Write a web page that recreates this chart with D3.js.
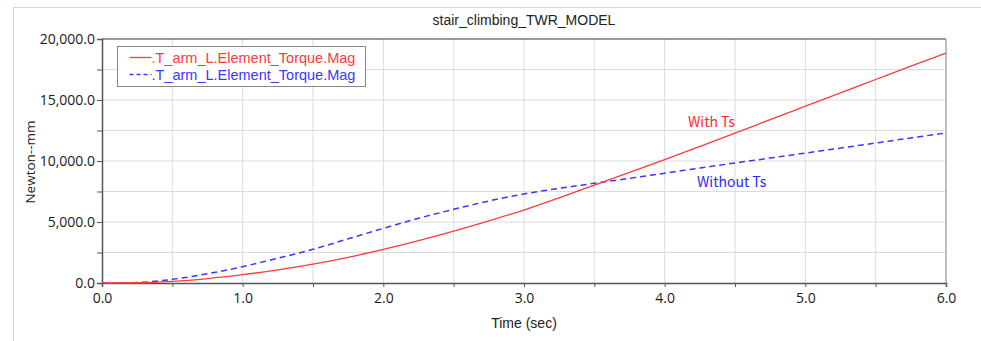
<!DOCTYPE html>
<html>
<head>
<meta charset="utf-8">
<script src="https://cdn.jsdelivr.net/npm/d3@7"></script>
<style>
  body { margin: 0; background: #fff; }
  svg { display: block; }
</style>
</head>
<body>
<div id="chart"></div>
<script>
// time in seconds
const times = [0, 0.25, 0.5, 0.75, 1.0, 1.25, 1.5, 1.75, 2.0, 2.25, 2.5, 2.75, 3.0,
               3.25, 3.5, 3.75, 4.0, 4.25, 4.5, 4.75, 5.0, 5.25, 5.5, 5.75, 6.0];
// torque, Newton-mm
const withTs = [0, 20, 130, 360, 680, 1070, 1540, 2100, 2760, 3480, 4260, 5100, 5980,
                6980, 8020, 9070, 10110, 11190, 12280, 13390, 14490, 15590, 16680, 17770, 18850];
const withoutTs = [0, 40, 300, 760, 1340, 2030, 2760, 3620, 4480, 5300, 6040, 6720, 7300,
                   7760, 8170, 8580, 9000, 9420, 9840, 10240, 10650, 11060, 11475, 11890, 12300];
const xTicks = [0, 1, 2, 3, 4, 5, 6];
const yTicks = [0, 5000, 10000, 15000, 20000];
const seriesNames = [".T_arm_L.Element_Torque.Mag", ".T_arm_L.Element_Torque.Mag"];

const W = 981, H = 341;
const m = { left: 102, right: 35, top: 39, bottom: 58 };

const svg = d3.select("#chart").append("svg")
    .attr("width", W)
    .attr("height", H);

// pink outer frame
svg.append("path")
    .attr("d", `M13.5,${H} L13.5,7.5 L${W},7.5`)
    .attr("fill", "none")
    .attr("stroke", "#ffc8c8")
    .attr("stroke-width", 1);

const x = d3.scaleLinear().domain([0, 6]).range([m.left, W - m.right]);
const y = d3.scaleLinear().domain([0, 20000]).range([H - m.bottom, m.top]);

// grid
const g = svg.append("g");
g.selectAll(".vg").data(d3.range(0.5, 6, 0.5)).join("line")
    .attr("x1", d => x(d)).attr("x2", d => x(d))
    .attr("y1", y(0)).attr("y2", y(20000))
    .attr("stroke", "#dcdcdc");
g.selectAll(".hg").data(d3.range(2500, 20000, 2500)).join("line")
    .attr("x1", x(0)).attr("x2", x(6))
    .attr("y1", d => y(d)).attr("y2", d => y(d))
    .attr("stroke", "#dcdcdc");

// frame top / right
svg.append("line").attr("x1", x(0)).attr("x2", x(6)).attr("y1", y(20000)).attr("y2", y(20000))
    .attr("stroke", "#777").attr("stroke-width", 1.5);
svg.append("line").attr("x1", x(6)).attr("x2", x(6)).attr("y1", y(20000)).attr("y2", y(0))
    .attr("stroke", "#aaa").attr("stroke-width", 1.5);

// axes
const fmt = d3.format(",.1f");
const xAxis = svg.append("g")
    .attr("transform", `translate(0,${y(0)})`)
    .call(d3.axisBottom(x).tickValues(d3.range(0, 6.01, 0.5)).tickSize(4)
        .tickFormat(d => xTicks.includes(d) ? d.toFixed(1) : ""));
const yAxis = svg.append("g")
    .attr("transform", `translate(${x(0)},0)`)
    .call(d3.axisLeft(y).tickValues(d3.range(0, 20001, 2500)).tickSize(5)
        .tickFormat(d => yTicks.includes(d) ? fmt(d) : ""));

[xAxis, yAxis].forEach(a => {
  a.select(".domain").attr("stroke", "#555").attr("stroke-width", 1.5);
  a.selectAll(".tick line").attr("stroke", "#555");
  a.selectAll("text")
      .attr("fill", "#1a1a1a")
      .style("font-family", "'Open Sans', sans-serif")
      .style("font-size", "14px");
});
xAxis.selectAll("text").attr("dy", "0.9em");
yAxis.selectAll("text").attr("x", -7);

// lines
const line = vals => d3.line()
    .x((d, i) => x(times[i]))
    .y(d => y(d))
    .curve(d3.curveMonotoneX)(vals);

svg.append("path").attr("d", line(withoutTs))
    .attr("fill", "none").attr("stroke", "#3838ff").attr("stroke-width", 1.5)
    .attr("stroke-dasharray", "6,4");
svg.append("path").attr("d", line(withTs))
    .attr("fill", "none").attr("stroke", "#ff3a3a").attr("stroke-width", 1.3);

// title and axis labels
svg.append("text").attr("x", 524).attr("y", 25).attr("text-anchor", "middle")
    .style("font-family", "'Liberation Sans', Arial, sans-serif").style("font-size", "14px")
    .attr("fill", "#222").text("stair_climbing_TWR_MODEL");
svg.append("text").attr("x", 524).attr("y", 328).attr("text-anchor", "middle")
    .style("font-family", "'Liberation Sans', Arial, sans-serif").style("font-size", "14px")
    .attr("fill", "#222").text("Time (sec)");
svg.append("text")
    .attr("transform", "translate(35,162) rotate(-90)").attr("text-anchor", "middle")
    .style("font-family", "'Open Sans', sans-serif").style("font-size", "13.5px")
    .attr("fill", "#222").text("Newton--mm");

// legend
const leg = svg.append("g").attr("transform", "translate(117.5,46.5)");
leg.append("rect").attr("width", 248).attr("height", 40)
    .attr("fill", "#fff").attr("stroke", "#888");
const legColors = ["#ff3a3a", "#3838ff"];
const legDash = [null, "4,3"];
seriesNames.forEach((name, i) => {
  const yy = 11 + i * 17;
  leg.append("line").attr("x1", 12).attr("x2", 34).attr("y1", yy).attr("y2", yy)
      .attr("stroke", legColors[i]).attr("stroke-width", 1.3)
      .attr("stroke-dasharray", legDash[i]);
  leg.append("text").attr("x", 34).attr("y", yy + 5)
      .style("font-family", "'Liberation Sans', Arial, sans-serif").style("font-size", "14.5px")
      .attr("fill", legColors[i]).text(name);
});

// annotations
svg.append("text").attr("x", 688).attr("y", 127)
    .style("font-family", "'Noto Sans CJK SC', 'Noto Sans', sans-serif").style("font-size", "14px")
    .attr("fill", "#ff2a2a").text("With Ts");
svg.append("text").attr("x", 697).attr("y", 187)
    .style("font-family", "'Noto Sans CJK SC', 'Noto Sans', sans-serif").style("font-size", "14px")
    .attr("fill", "#2a2aff").text("Without Ts");
</script>
</body>
</html>
